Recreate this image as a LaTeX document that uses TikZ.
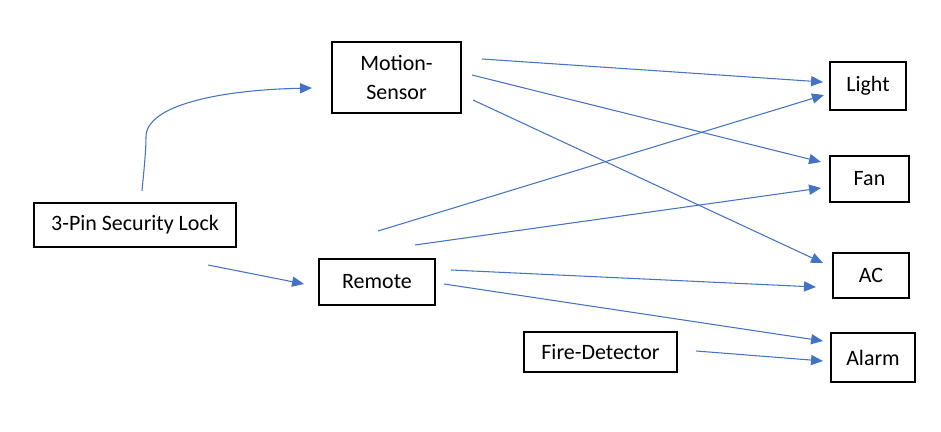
\documentclass[tikz,border=0pt]{standalone}
\usepackage{fontspec}
\setmainfont{Carlito}
\usetikzlibrary{arrows.meta}
\definecolor{pfeilblau}{HTML}{4472C4}

\begin{document}
\begin{tikzpicture}[x=0.02cm, y=-0.02cm,
	box/.style={draw, line width=0.8pt, align=center, inner sep=0pt, font=\fontsize{12.5}{16.4}\selectfont},
	pfeil/.style={draw=pfeilblau, line width=0.6pt, -{Triangle[length=6.8pt, width=5.8pt]}}]
	\useasboundingbox (0,0) rectangle (941,432);
	% Kaesten
	\node [box, minimum width=2.58cm, minimum height=1.42cm] (motion) at (396.5,77.5) {Motion-\\Sensor};
	\node [box, minimum width=4.04cm, minimum height=0.88cm] (lock) at (135,225) {3-Pin Security Lock};
	\node [box, minimum width=2.32cm, minimum height=0.92cm] (remote) at (377,282) {Remote};
	\node [box, minimum width=3.06cm, minimum height=0.80cm] (fire) at (600.5,352) {Fire-Detector};
	\node [box, minimum width=1.52cm, minimum height=0.96cm] (light) at (868,86) {Light};
	\node [box, minimum width=1.58cm, minimum height=0.92cm] (fan) at (869.5,179) {Fan};
	\node [box, minimum width=1.52cm, minimum height=0.90cm] (ac) at (871,275.5) {AC};
	\node [box, minimum width=1.68cm, minimum height=0.98cm] (alarm) at (873,357.5) {Alarm};
	% Anfangs- und Endpunkte der Pfeile
	\coordinate (lockA) at (142,191);
	\coordinate (lockB) at (208,265);
	\coordinate (motionIn) at (312,88);
	\coordinate (remoteIn) at (304,284);
	\coordinate (ms1) at (482,59);
	\coordinate (ms2) at (472,75);
	\coordinate (ms3) at (473,100);
	\coordinate (re1) at (378,231);
	\coordinate (re2) at (415,245);
	\coordinate (re3) at (451,270);
	\coordinate (re4) at (444,284);
	\coordinate (fd1) at (696,351);
	\coordinate (li1) at (823,82);
	\coordinate (li2) at (824,95);
	\coordinate (fa1) at (821,162);
	\coordinate (fa2) at (821,188);
	\coordinate (ac1) at (823,263);
	\coordinate (ac2) at (816,287);
	\coordinate (al1) at (823,341);
	\coordinate (al2) at (823,361);
	% Pfeile
	\draw [pfeil] (lockA) .. controls (144,170) and (146,150) .. (146,137) .. controls (146,105) and (220,90) .. (motionIn);
	\draw [pfeil] (lockB) -- (remoteIn);
	\draw [pfeil] (ms1) -- (li1);
	\draw [pfeil] (ms2) -- (fa1);
	\draw [pfeil] (ms3) -- (ac1);
	\draw [pfeil] (re1) -- (li2);
	\draw [pfeil] (re2) -- (fa2);
	\draw [pfeil] (re3) -- (ac2);
	\draw [pfeil] (re4) -- (al1);
	\draw [pfeil] (fd1) -- (al2);
\end{tikzpicture}
\end{document}
